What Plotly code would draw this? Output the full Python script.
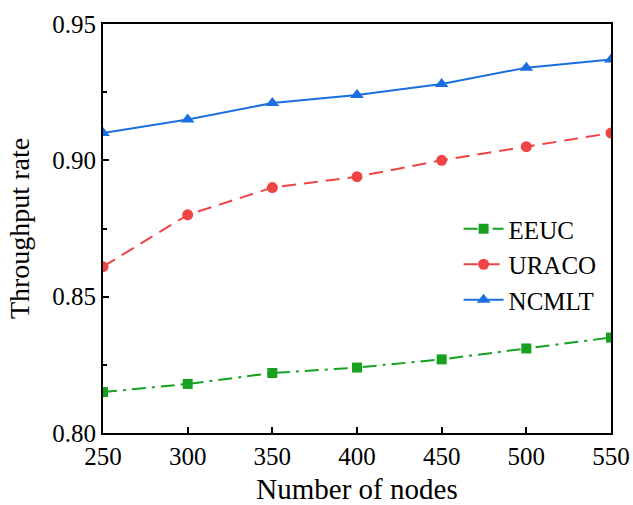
import plotly.graph_objects as go

nodes = [250, 300, 350, 400, 450, 500, 550]
eeuc = [0.815, 0.818, 0.822, 0.824, 0.827, 0.831, 0.835]
uraco = [0.861, 0.880, 0.890, 0.894, 0.900, 0.905, 0.910]
ncmlt = [0.910, 0.915, 0.921, 0.924, 0.928, 0.934, 0.937]

font_family = "Liberation Serif"

fig = go.Figure()
fig.add_trace(go.Scatter(x=nodes, y=eeuc, name="EEUC", mode="lines+markers",
                         line=dict(color="#16a11e", width=2, dash="14px,6px,3px,6px"),
                         marker=dict(symbol="square", size=10, color="#16a11e")))
fig.add_trace(go.Scatter(x=nodes, y=uraco, name="URACO", mode="lines+markers",
                         line=dict(color="#f04343", width=2, dash="14px,8px"),
                         marker=dict(symbol="circle", size=11, color="#f04343")))
fig.add_trace(go.Scatter(x=nodes, y=ncmlt, name="NCMLT", mode="lines+markers",
                         line=dict(color="#1a6fe0", width=2),
                         marker=dict(symbol="triangle-up", size=12, color="#1a6fe0")))

fig.update_layout(
    width=633, height=505,
    margin=dict(l=103, r=22, t=24, b=72),
    plot_bgcolor="white", paper_bgcolor="white",
    font=dict(family=font_family, size=25, color="black"),
    showlegend=True,
    legend=dict(x=0.70, y=0.555, xanchor="left", yanchor="top",
                bgcolor="rgba(0,0,0,0)", font=dict(size=25, family=font_family),
                tracegroupgap=0, itemwidth=40),
)
fig.update_xaxes(
    range=[250, 550], tickvals=nodes, showgrid=False, zeroline=False,
    showline=True, linecolor="black", linewidth=2, mirror=True, automargin=False,
    ticks="inside", ticklen=6, tickwidth=2, tickcolor="black",
    title=dict(text="Number of nodes", font=dict(size=29, family=font_family), standoff=24),
    tickfont=dict(size=25, family=font_family),
)
fig.update_yaxes(
    range=[0.80, 0.95], tickvals=[0.80, 0.85, 0.90, 0.95], ticktext=["0.80", "0.85", "0.90", "0.95"],
    showgrid=False, zeroline=False, automargin=False,
    showline=True, linecolor="black", linewidth=2, mirror=True,
    ticks="inside", ticklen=6, tickwidth=2, tickcolor="black",
    minor=dict(tickvals=[0.825, 0.875, 0.925], ticks="inside", ticklen=4, tickwidth=1.5, tickcolor="black"),
    title=dict(text="Throughput rate", font=dict(size=28, family=font_family), standoff=14),
    tickfont=dict(size=25, family=font_family),
)

fig.write_html("out.html")
